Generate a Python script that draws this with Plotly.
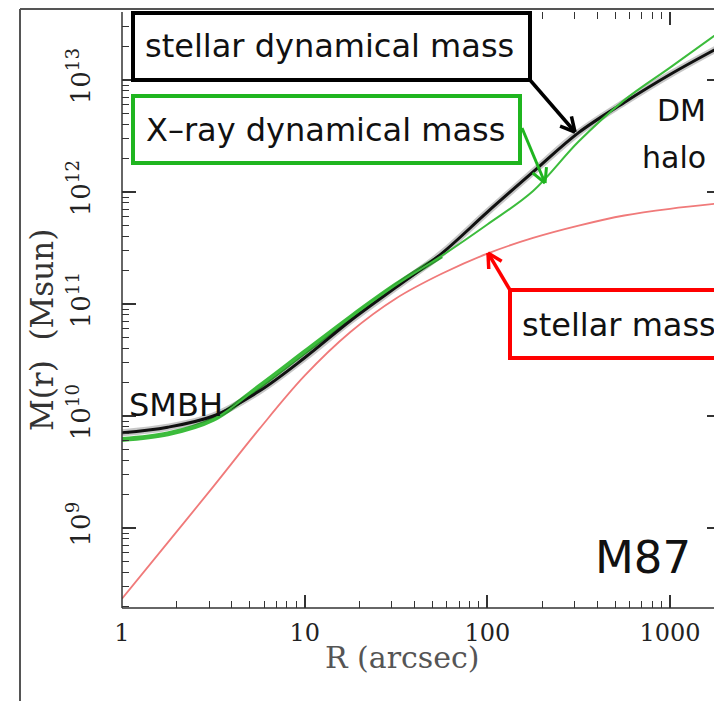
import math
import plotly.graph_objects as go

# ---------------- data ----------------
R_arcsec = [1, 1.78, 3.16, 5.62, 10, 17.8, 31.6, 56.2, 100, 178, 316, 562, 1000, 1905]

M_stellar = [2.34e8, 7.41e8, 2.34e9, 7.59e9, 2.29e10, 5.62e10, 1.12e11, 1.86e11,
             2.82e11, 3.89e11, 5.01e11, 6.17e11, 7.08e11, 7.94e11]
M_stellar_dyn = [7.08e9, 7.94e9, 1.0e10, 1.66e10, 3.31e10, 7.08e10, 1.41e11, 2.82e11,
                 6.61e11, 1.51e12, 3.39e12, 6.31e12, 1.12e13, 2.0e13]
M_xray_dyn = [6.17e9, 6.92e9, 9.33e9, 1.82e10, 3.72e10, 7.59e10, 1.48e11, 2.69e11,
              5.13e11, 1.02e12, 2.82e12, 6.61e12, 1.29e13, 2.75e13]

x_tickvals = [1, 10, 100, 1000]
x_ticktext = ["1", "10", "100", "1000"]
y_tickvals = [1e9, 1e10, 1e11, 1e12, 1e13]
y_ticktext = ["10<sup>9</sup>", "10<sup>10</sup>", "10<sup>11</sup>", "10<sup>12</sup>", "10<sup>13</sup>"]
x_minor = [m * d for d in [1, 10, 100, 1000] for m in range(2, 10)]
y_minor = [m * 10.0 ** e for e in range(8, 14) for m in range(2, 10)]

# ---------------- layout geometry ----------------
# The page adds an 8 px body margin, so the figure is placed at (8, 8) of the window.
OFF = 8
W, H = 722 - OFF, 701 - OFF
# plot area in window pixels: x 122..721, y 12..608
PL, PR, PT, PB = 122, 721, 12, 608
L, RM, T, B = PL - OFF, W - (PR - OFF), PT - OFF, H - (PB - OFF)
PW, PH = PR - PL, PB - PT


def px(x):  # window pixel -> paper
    return (x - PL) / PW


def py(y):
    return (PB - y) / PH


fig = go.Figure()

RED = "#f07a7a"
GREEN = "#3cbc3c"
BOX_GREEN = "#1fb51f"

fig.add_trace(go.Scatter(x=R_arcsec, y=M_stellar, mode="lines",
                         line=dict(color=RED, width=1.8, shape="spline"),
                         showlegend=False))
fig.add_trace(go.Scatter(x=R_arcsec[:8], y=M_xray_dyn[:8], mode="lines",
                         line=dict(color=GREEN, width=5, shape="spline"),
                         showlegend=False))
fig.add_trace(go.Scatter(x=R_arcsec, y=M_stellar_dyn, mode="lines",
                         line=dict(color="rgba(0,0,0,0.22)", width=7, shape="spline"),
                         showlegend=False))
fig.add_trace(go.Scatter(x=R_arcsec, y=M_stellar_dyn, mode="lines",
                         line=dict(color="#111111", width=3, shape="spline"),
                         showlegend=False))
fig.add_trace(go.Scatter(x=R_arcsec, y=M_xray_dyn, mode="lines",
                         line=dict(color=GREEN, width=2, shape="spline"),
                         showlegend=False))

shapes = []


def line_px(x0, y0, x1, y1, color, width):
    shapes.append(dict(type="line", xref="paper", yref="paper",
                       x0=px(x0), y0=py(y0), x1=px(x1), y1=py(y1),
                       line=dict(color=color, width=width), layer="above"))


def rect_px(x0, y0, x1, y1, color, width):
    shapes.append(dict(type="rect", xref="paper", yref="paper",
                       x0=px(x0), y0=py(y0), x1=px(x1), y1=py(y1),
                       line=dict(color=color, width=width), fillcolor="white",
                       layer="above"))


def arrow_px(x0, y0, x1, y1, color, width, head=16, ang=28):
    line_px(x0, y0, x1, y1, color, width)
    a = math.atan2(y1 - y0, x1 - x0)
    for s in (-1, 1):
        b = a + math.pi + s * math.radians(ang)
        line_px(x1, y1, x1 + head * math.cos(b), y1 + head * math.sin(b), color, width)


# outer frame of the screenshot
line_px(20, 9, 20, 701, "#555555", 2)
line_px(20, 9, 722, 9, "#555555", 2)
# axis lines
line_px(PL, PT, PL, PB, "#333333", 1.5)
line_px(PL, PB, 722, PB, "#333333", 1.5)

# boxes
rect_px(133, 13, 530, 80, "black", 4)
rect_px(133, 96, 520, 163, BOX_GREEN, 4)
rect_px(510, 290, 740, 358, "#ff0000", 4)

# arrows
arrow_px(530, 80, 575, 132, "black", 3.5)
arrow_px(522, 128, 545, 183, BOX_GREEN, 3)
arrow_px(510, 290, 488, 253, "#ff0000", 3.5)

SANS = "DejaVu Sans"
SERIF = "DejaVu Serif"

ann = []


def text_px(x, y, s, size, color="black", xanchor="center", font=SANS, angle=0):
    ann.append(dict(x=px(x), y=py(y), xref="paper", yref="paper", text=s,
                    showarrow=False, xanchor=xanchor, yanchor="middle",
                    textangle=angle,
                    font=dict(family=font, size=size, color=color)))


text_px(329, 46, "stellar dynamical mass", 32, "#111111")
text_px(325, 130, "X\u2013ray dynamical mass", 32, "#111111")
text_px(520, 325, "stellar mass", 32, "#111111", xanchor="left")
text_px(176, 405, "SMBH", 32, "#111111")
text_px(708, 110, "DM", 30, "#111111", xanchor="right")
text_px(708, 157, "halo", 30, "#111111", xanchor="right")
text_px(643, 557, "M87", 45, "#111111")
text_px(402, 657, "R (arcsec)", 30, "#555555", font=SERIF)
text_px(42, 330, "M(r)\u00a0\u00a0(Msun)", 31, "#333333", font=SERIF, angle=-90)

fig.update_layout(
    width=W, height=H,
    margin=dict(l=L, r=RM, t=T, b=B, pad=0),
    paper_bgcolor="white", plot_bgcolor="white",
    shapes=shapes, annotations=ann, showlegend=False,
    xaxis=dict(type="log", range=[0, math.log10(1000) * (PW / 548)],
               showline=False, mirror="ticks", showgrid=False, zeroline=False,
               ticks="inside", ticklen=13, tickwidth=1.5, tickcolor="#333333",
               tickvals=x_tickvals, ticktext=x_ticktext,
               tickfont=dict(family=SERIF, size=24, color="#222222"),
               ticklabelstandoff=8,
               minor=dict(ticks="inside", ticklen=7, tickwidth=1.2,
                          tickcolor="#333333", tickvals=x_minor, showgrid=False)),
    yaxis=dict(type="log", range=[9 - 80 / 112, 13 + 68 / 112],
               showline=False, mirror="ticks", showgrid=False, zeroline=False,
               ticks="inside", ticklen=14, tickwidth=1.5, tickcolor="#333333",
               tickvals=y_tickvals, ticktext=y_ticktext, tickangle=-90,
               tickfont=dict(family=SERIF, size=26, color="#222222"),
               ticklabelstandoff=26,
               minor=dict(ticks="inside", ticklen=7, tickwidth=1.2,
                          tickcolor="#333333", tickvals=y_minor, showgrid=False)),
)

fig.write_html("out.html")
